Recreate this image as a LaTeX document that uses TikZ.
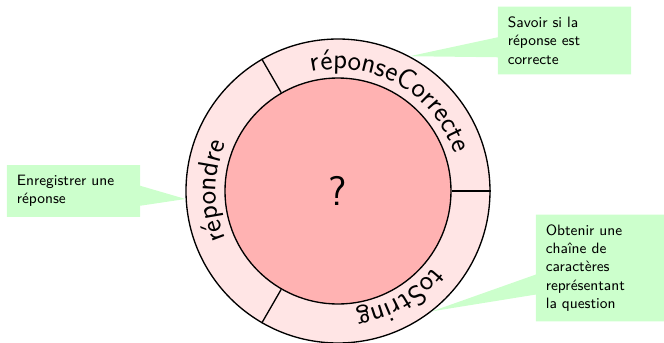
\documentclass[tikz,border=0pt]{standalone}
\usepackage{tikz}
\usetikzlibrary{shapes.callouts, decorations.text}
\tikzset{
	ring/.style    ={circle, draw=black, thick, fill=red!10, minimum size=182.4pt, inner sep=0pt},
	core/.style    ={circle, draw=black, thick, fill=red!30, minimum size=135.6pt, inner sep=0pt, font=\sffamily\Huge},
	divider/.style ={thick},
	note/.style    ={rectangle callout, fill=green!20, font=\sffamily\small, align=left, inner sep=6pt, callout pointer width=12pt},
}
\begin{document}
\begin{tikzpicture}[x=0.6pt, y=0.6pt]
	\useasboundingbox (-338,-151) rectangle (326,191);
	\node[ring] (outer) at (0,0) {};
	\node[core] (inner) at (0,0) {?};
	\foreach \a in {0,120,240} \draw[divider] (inner.\a) -- (outer.\a);
	% method names along the ring, one per sector
	\path[decorate, decoration={text along path, text align=center, text={|\sffamily\LARGE|réponseCorrecte}}]
		(120:122) arc[start angle=120, end angle=0, radius=122];
	\path[decorate, decoration={text along path, text align=center, text={|\sffamily\LARGE|répondre}}]
		(240:122) arc[start angle=240, end angle=120, radius=122];
	\path[decorate, decoration={text along path, text align=center, text={|\sffamily\LARGE|toString}}]
		(360:122) arc[start angle=360, end angle=240, radius=122];
	% notes
	\node[note, text width=68pt, callout absolute pointer={(outer.183)}] (enreg) at (-264.5,0) {Enregistrer une\\réponse};
	\node[note, text width=68pt, callout absolute pointer={(outer.62)}] (savoir) at (226.5,150.5) {Savoir si la\\réponse est\\correcte};
	\node[note, text width=65pt, callout absolute pointer={(outer.308)}] (obtenir) at (262,-77) {Obtenir une\\chaîne de\\caractères\\représentant\\la question};
\end{tikzpicture}
\end{document}
